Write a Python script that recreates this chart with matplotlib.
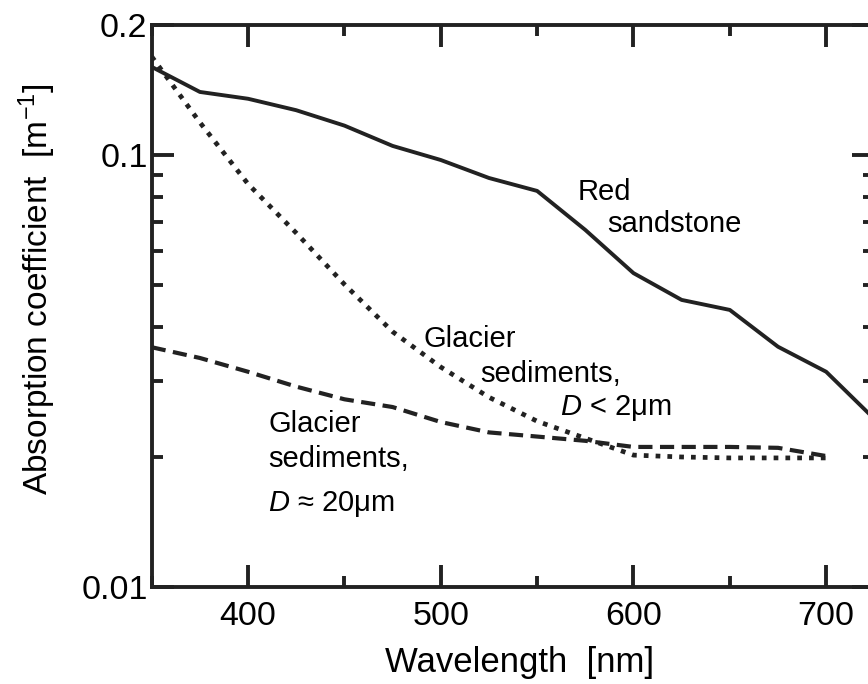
import matplotlib
matplotlib.use("Agg")
import matplotlib.pyplot as plt
from matplotlib.ticker import FixedLocator, FixedFormatter, NullFormatter

# wavelength grid [nm]
wl_sand = [350, 375, 400, 425, 450, 475, 500, 525, 550, 575, 600, 625, 650, 675, 700, 725]
red_sandstone = [0.160, 0.140, 0.135, 0.127, 0.117, 0.105, 0.0974, 0.0885, 0.0826,
                 0.0671, 0.0533, 0.0462, 0.0438, 0.0360, 0.0315, 0.0245]

wl_glac = [350, 375, 400, 425, 450, 475, 500, 525, 550, 575, 600, 625, 650, 675, 700]
glacier_fine = [0.169, 0.119, 0.0857, 0.0660, 0.0502, 0.0390, 0.0323, 0.0275, 0.0242,
                0.0221, 0.0202, 0.0200, 0.0199, 0.0199, 0.0199]
glacier_coarse = [0.0359, 0.0339, 0.0315, 0.0291, 0.0272, 0.0261, 0.0241, 0.0228, 0.0223,
                  0.0218, 0.0211, 0.0211, 0.0211, 0.0210, 0.0201]

x_ticks = [400, 500, 600, 700]
x_minor = [350, 450, 550, 650]
y_ticks = [0.01, 0.1, 0.2]
y_tick_labels = ["0.01", "0.1", "0.2"]
y_minor = [0.02, 0.03, 0.04, 0.05, 0.06, 0.07, 0.08, 0.09]

plt.rcParams["font.family"] = ["Liberation Sans", "DejaVu Sans"]
plt.rcParams["mathtext.fontset"] = "custom"
plt.rcParams["mathtext.rm"] = "Liberation Sans"
plt.rcParams["mathtext.it"] = "Liberation Sans:italic"

ink = "#222222"

fig = plt.figure(figsize=(8.68, 6.84), dpi=100)
ax = fig.add_axes([0.1748, 0.1418, 0.8325, 0.8216])

ax.plot(wl_sand, red_sandstone, color=ink, lw=2.8, solid_joinstyle="round")
ax.plot(wl_glac, glacier_fine, color=ink, lw=3.4, linestyle=(0, (1, 1.5)))
ax.plot(wl_glac, glacier_coarse, color=ink, lw=3.0, linestyle=(0, (3.4, 1.8)))

ax.set_yscale("log")
ax.set_xlim(350, 725)
ax.set_ylim(0.01, 0.2)

ax.xaxis.set_major_locator(FixedLocator(x_ticks))
ax.xaxis.set_minor_locator(FixedLocator(x_minor))
ax.yaxis.set_major_locator(FixedLocator(y_ticks))
ax.yaxis.set_major_formatter(FixedFormatter(y_tick_labels))
ax.yaxis.set_minor_locator(FixedLocator(y_minor))
ax.yaxis.set_minor_formatter(NullFormatter())

ax.tick_params(which="both", direction="in", top=True, right=True,
               width=2.8, color=ink, labelsize=24.5)
ax.tick_params(which="major", length=16)
ax.tick_params(which="minor", length=8)
ax.tick_params(axis="x", which="major", pad=10)
ax.tick_params(axis="y", which="major", pad=3)

for sp in ax.spines.values():
    sp.set_linewidth(2.8)
    sp.set_color(ink)

fig.text(0.043, 0.5775, "Absorption coefficient  [m$^{-1}$]", rotation=90,
         ha="center", va="center", fontsize=24)
fig.text(0.598, 0.0175, "Wavelength  [nm]", ha="center", va="baseline", fontsize=25)

fs = 21
ax.text(570.8, 0.0787, "Red", fontsize=fs, va="baseline")
ax.text(586.3, 0.0664, "sandstone", fontsize=fs, va="baseline")

ax.text(490.8, 0.0359, "Glacier", fontsize=fs, va="baseline")
ax.text(520.4, 0.0298, "sediments,", fontsize=fs, va="baseline")
ax.text(561.9, 0.0250, "$D$ < 2μm", fontsize=fs, va="baseline")

ax.text(410.4, 0.0228, "Glacier", fontsize=fs, va="baseline")
ax.text(410.4, 0.01896, "sediments,", fontsize=fs, va="baseline")
ax.text(410.4, 0.0150, "$D$ ≈ 20μm", fontsize=fs, va="baseline")

fig.savefig("out.png", dpi=100)
